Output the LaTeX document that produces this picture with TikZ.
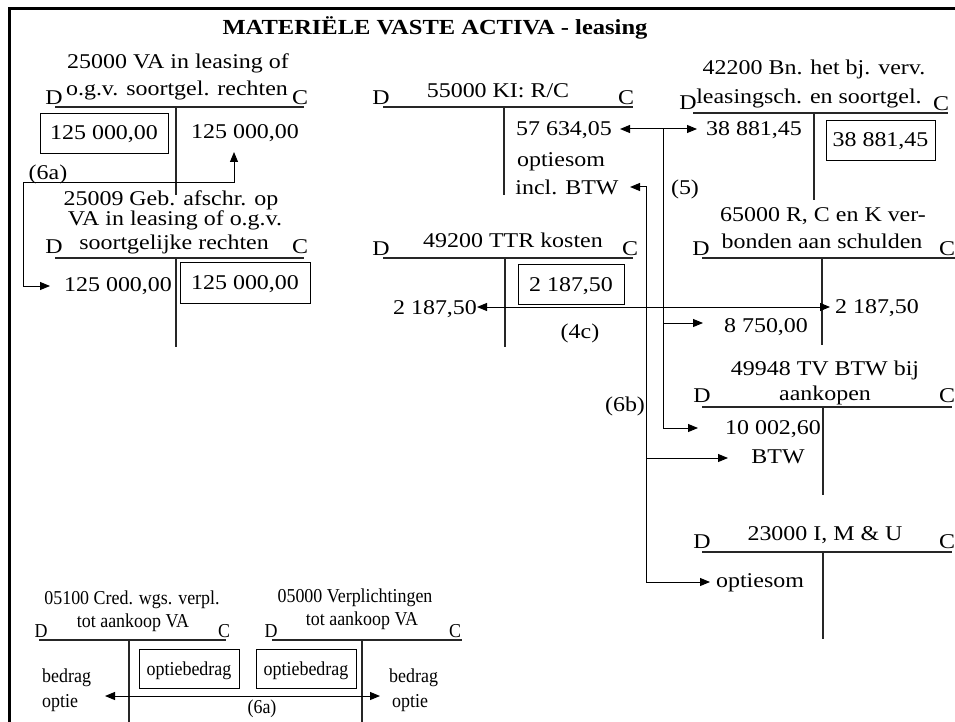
\documentclass[tikz,border=0pt]{standalone}
\usepackage{fontspec}
\setmainfont{Liberation Serif}[FakeStretch=1.14]
\newfontfamily\narrowfont{Liberation Serif}[FakeStretch=0.91]
\usetikzlibrary{arrows.meta}
\tikzset{
  tx/.style={inner sep=0pt, text height=14pt, text depth=0pt, font=\fontsize{21}{22}\selectfont},
  nt/.style={inner sep=0pt, text height=13pt, text depth=0pt, font=\narrowfont\fontsize{19.7}{21}\selectfont},
  bx/.style={draw, line width=0.9pt, inner sep=0pt},
  tline/.style={line width=1.1pt, draw=black!85},
  arr/.style={line width=1pt, -{Triangle[length=10pt,width=8pt]}},
  dbl/.style={line width=1pt, {Triangle[length=10pt,width=8pt]}-{Triangle[length=10pt,width=8pt]}},
  frame/.style={line width=3pt}
}
\begin{document}
\begin{tikzpicture}[x=1pt,y=-1pt]
\useasboundingbox (0,0) rectangle (955,722);
\draw[frame] (9,722) -- (9,9) -- (955,9);

\node[tx, font=\bfseries\fontsize{21.5}{22}\selectfont] (title) at (435,28) {MATERIËLE VASTE ACTIVA - leasing};

% 25000
\node[tx] (a1t1) at (178,62) {25000 VA in leasing of};
\node[tx] (a1t2) at (177,89) {o.g.v. soortgel. rechten};
\node[tx] (a1D) at (54,98) {D};
\node[tx] (a1C) at (300,98) {C};
\draw[tline] (55,107) -- (304,107);
\draw[tline] (176,107) -- (176,195);
\node[tx, bx, minimum width=128pt, minimum height=40pt] (a1box) at (104,133) {125 000,00};
\node[tx] (a1cr) at (245,132) {125 000,00};
\node[tx] (l6a) at (48,173) {(6a)};

% 25009
\node[tx] (a2t1) at (171,198) {25009 Geb. afschr. op};
\node[tx] (a2t2) at (175,218) {VA in leasing of o.g.v.};
\node[tx] (a2t3) at (174,242) {soortgelijke rechten};
\node[tx] (a2D) at (54,246) {D};
\node[tx] (a2C) at (300,246) {C};
\draw[tline] (55,258) -- (304,258);
\draw[tline] (176,258) -- (176,347);
\node[tx] (a2dl) at (118,284) {125 000,00};
\node[tx, bx, minimum width=130pt, minimum height=41pt] (a2box) at (245,282.5) {125 000,00};

\coordinate (t6aup) at (234,152);
\coordinate (t6adn) at (50,286);
\coordinate (c6a) at (23,183);
\draw[dbl] (t6aup) |- (c6a) |- (t6adn);

% 55000
\node[tx] (b1t) at (498,91) {55000 KI: R/C};
\node[tx] (b1D) at (381,98) {D};
\node[tx] (b1C) at (626,98) {C};
\draw[tline] (383,107) -- (633,107);
\draw[tline] (504,107) -- (504,195);
\node[tx] (b1a) at (564,129) {57 634,05};
\node[tx] (b1b) at (561,160) {optiesom};
\node[tx] (b1c) at (567,187) {incl. BTW};

% 49200
\node[tx] (b2t) at (513,240) {49200 TTR kosten};
\node[tx] (b2D) at (381,248) {D};
\node[tx] (b2C) at (630,248) {C};
\draw[tline] (383,258) -- (633,258);
\draw[tline] (505,258) -- (505,347);
\node[tx, bx, minimum width=106pt, minimum height=40pt] (b2box) at (571,284) {2 187,50};
\node[tx] (b2l) at (435,307) {2 187,50};
\node[tx] (l4c) at (580,331) {(4c)};

% 42200
\node[tx] (c1t1) at (814,68) {42200 Bn. het bj. verv.};
\node[tx] (c1t2) at (809,97) {leasingsch. en soortgel.};
\node[tx] (c1D) at (688,103) {D};
\node[tx] (c1C) at (941,104) {C};
\draw[tline] (693,113) -- (948,113);
\draw[tline] (814,113) -- (814,200);
\node[tx] (c1a) at (754,129) {38 881,45};
\node[tx, bx, minimum width=109pt, minimum height=40pt] (c1box) at (880.5,140) {38 881,45};

% 65000
\node[tx] (c2t1) at (823,215) {65000 R, C en K ver-};
\node[tx] (c2t2) at (822,241) {bonden aan schulden};
\node[tx] (c2D) at (701,248) {D};
\node[tx] (c2C) at (947,248) {C};
\draw[tline] (702,258) -- (955,258);
\draw[tline] (822,258) -- (822,345);
\node[tx] (c2r) at (877,306) {2 187,50};
\node[tx] (c2l) at (766,325) {8 750,00};

% 49948
\node[tx] (c3t1) at (825,368) {49948 TV BTW bij};
\node[tx] (c3t2) at (825,393) {aankopen};
\node[tx] (c3D) at (702,395) {D};
\node[tx] (c3C) at (947,395) {C};
\draw[tline] (702,407) -- (952,407);
\draw[tline] (823,407) -- (823,495);
\node[tx] (c3a) at (773,427) {10 002,60};
\node[tx] (c3b) at (778,456) {BTW};

% 23000
\node[tx] (c4t1) at (825,533) {23000 I, M \& U};
\node[tx] (c4D) at (702,541) {D};
\node[tx] (c4C) at (947,541) {C};
\draw[tline] (702,552) -- (952,552);
\draw[tline] (823,552) -- (823,639);
\node[tx] (c4a) at (760,580) {optiesom};

% connectors (5)
\draw[dbl] (620,129) -- (697,129);
\draw[arr] (663,129) |- (698,428);
\draw[arr] (663,323) -- (703,323);
\node[tx] (l5) at (685,188) {(5)};

% connectors (6b)
\draw[arr] (646,582) |- (630,187);
\draw[arr] (646,582) -- (710,582);
\draw[arr] (646,458) -- (728,458);
\node[tx] (l6b) at (625,404) {(6b)};

% connector (4c)
\draw[dbl] (477,307) -- (830,307);

% 05100
\node[nt] (d1t1) at (132,598) {05100 Cred. wgs. verpl.};
\node[nt] (d1t2) at (133,621) {tot aankoop VA};
\node[nt] (d1D) at (41,631) {D};
\node[nt] (d1C) at (224,631) {C};
\draw[tline] (39,640) -- (226,640);
\draw[tline] (129,640) -- (129,722);
\node[nt, bx, minimum width=100pt, minimum height=39pt] (d1box) at (189,668.5) {optiebedrag};
\node[nt, anchor=west] (d1a) at (42,676) {bedrag};
\node[nt, anchor=west] (d1b) at (42,701) {optie};

% 05000
\node[nt] (d2t1) at (355,596) {05000 Verplichtingen};
\node[nt] (d2t2) at (362,619) {tot aankoop VA};
\node[nt] (d2D) at (271,631) {D};
\node[nt] (d2C) at (455,631) {C};
\draw[tline] (272,640) -- (462,640);
\draw[tline] (362,640) -- (362,722);
\node[nt, bx, minimum width=100pt, minimum height=39pt] (d2box) at (306,668.5) {optiebedrag};
\node[nt, anchor=west] (d2a) at (389,676) {bedrag};
\node[nt, anchor=west] (d2b) at (392,701) {optie};

\draw[dbl] (105,696) -- (380,696);
\node[nt] (l6a2) at (262,707) {(6a)};
\end{tikzpicture}
\end{document}
